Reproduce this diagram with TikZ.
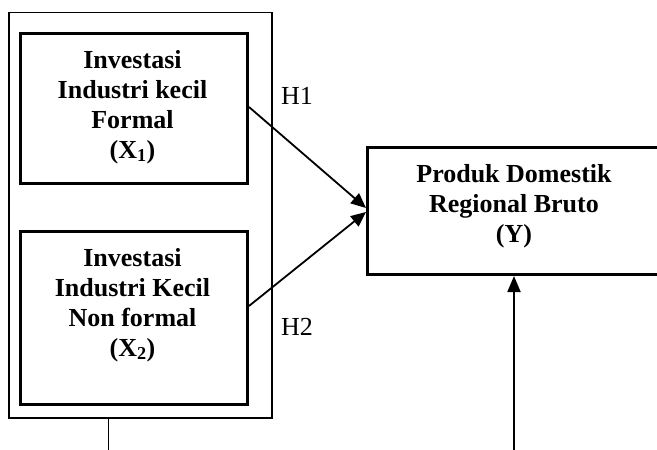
\documentclass[tikz,border=0pt]{standalone}
\usepackage{fontspec}
\setmainfont{Liberation Serif}
\usetikzlibrary{arrows.meta}
\begin{document}
\begin{tikzpicture}[x=1pt,y=-1pt,
  thickbox/.style={draw,line width=3pt},
  thinbox/.style={draw,line width=1.5pt},
  lbl/.style={font=\fontsize{26}{30}\selectfont\bfseries,align=center,inner sep=0pt},
  hlab/.style={font=\fontsize{26}{30}\selectfont,inner sep=0pt},
  conn/.style={line width=1.8pt,-{Triangle[length=15pt,width=13pt]}}]
\useasboundingbox (0,0) rectangle (657,450);
% outer box
\draw[thinbox] (9,12.5) rectangle (272,418);
% boxes
\node[thickbox,minimum width=227pt,minimum height=150pt,inner sep=0pt,anchor=north west] (x1) at (19,32) {};
\node[thickbox,minimum width=227pt,minimum height=173pt,inner sep=0pt,anchor=north west] (x2) at (19,230) {};
\node[thickbox,minimum width=310pt,minimum height=127pt,inner sep=0pt,anchor=north west] (y) at (366,146) {};
% texts
\node[lbl] (t1) at (132.5,107) {Investasi\\Industri kecil\\Formal\\(X\textsubscript{1})};
\node[lbl] (t2) at (132.5,305) {Investasi\\Industri Kecil\\Non formal\\(X\textsubscript{2})};
\node[lbl] (ty) at (514,206) {Produk Domestik\\Regional Bruto\\(Y)};
\node[hlab] (h1) at (297,96) {H1};
\node[hlab] (h2) at (297,327) {H2};
% connectors
\coordinate (e1) at (366,208);
\coordinate (e2) at (366,212);
\draw[conn] (x1.east |- 0,107) -- (e1);
\draw[conn] (x2.east |- 0,306) -- (e2);
\coordinate (b1) at (108.7,450);
\draw[line width=1.5pt] (b1) -- (108.7,418);
\coordinate (b2) at (514,450);
\draw[conn,-{Triangle[length=16pt,width=13pt]}] (b2) -- (y.south -| b2);
\end{tikzpicture}
\end{document}
